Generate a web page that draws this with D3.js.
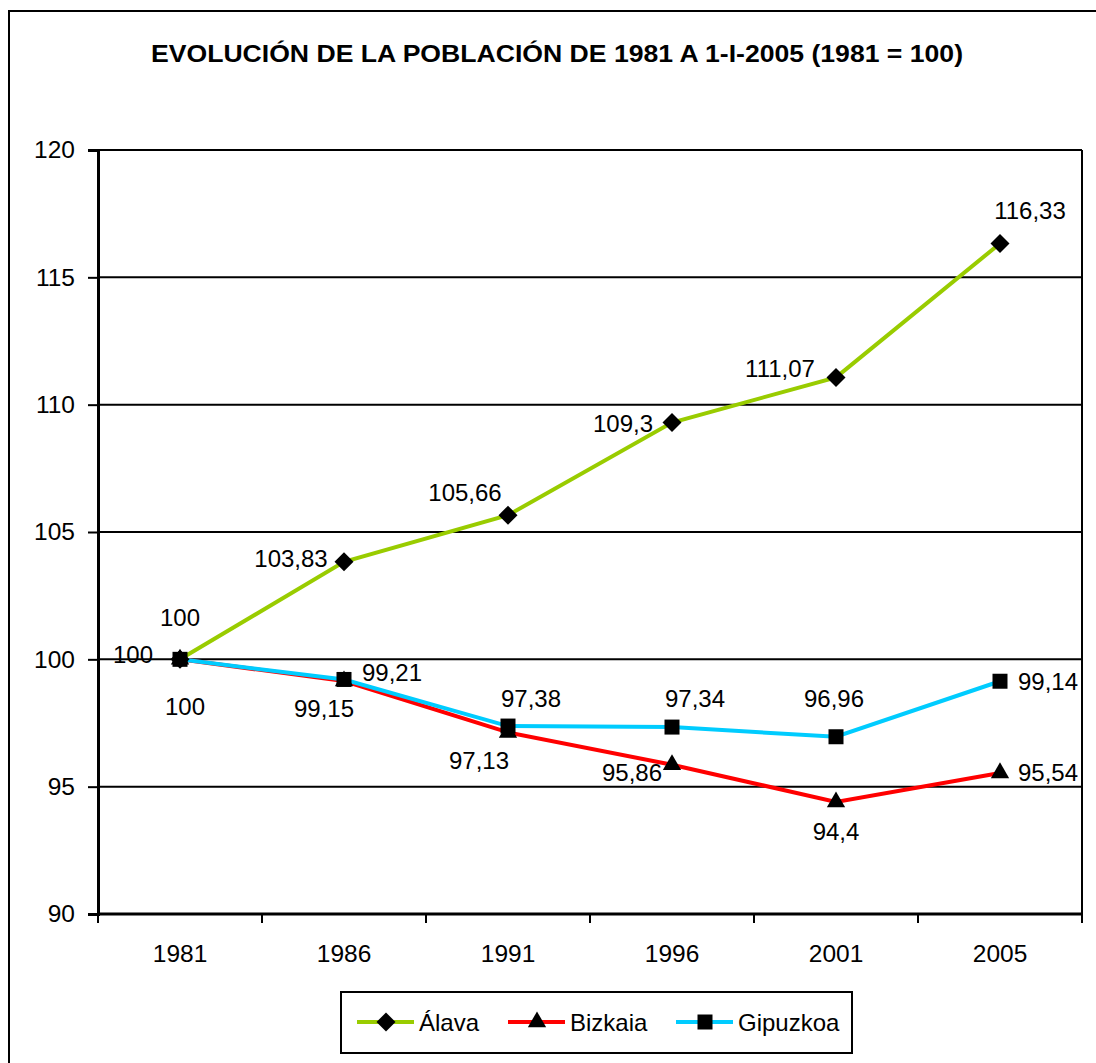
<!DOCTYPE html>
<html><head><meta charset="utf-8">
<script src="https://cdn.jsdelivr.net/npm/d3@7"></script>
<style>body{margin:0;background:#fff}svg{display:block}text{font-family:Arial,"Liberation Sans",sans-serif}</style>
</head><body>
<script>
const title = "EVOLUCIÓN DE LA POBLACIÓN DE 1981 A 1-I-2005 (1981 = 100)";
const years = ["1981","1986","1991","1996","2001","2005"];
const alava = [100,103.83,105.66,109.3,111.07,116.33];
const bizkaia = [100,99.15,97.13,95.86,94.4,95.54];
const gipuzkoa = [100,99.21,97.38,97.34,96.96,99.14];
const yTicks = [90,95,100,105,110,115,120];
const seriesNames = ["Álava","Bizkaia","Gipuzkoa"];
const seriesColors = ["#99CC00","#FF0000","#00CCFF"];
const seriesSymbols = [d3.symbolDiamond2, d3.symbolTriangle, d3.symbolSquare];
// label offsets (dx, dy) relative to each point, per series
const labelOffsets = [
  [[0,-42],[-53,-3],[-43,-23],[-49,1],[-56,-9],[30,-33]],
  [[-47,-5],[-20,28],[-29,28],[-40,8],[0,30],[48,0]],
  [[5,47],[48,-7],[23,-28],[23,-29],[-2,-38],[48,0]]
];
const series = [alava,bizkaia,gipuzkoa];

const W=1096,H=1063;
const svg=d3.select("body").append("svg").attr("width",W).attr("height",H);
svg.append("rect").attr("width",W).attr("height",H).attr("fill","#fff");
svg.append("rect").attr("x",9).attr("y",11).attr("width",1200).attr("height",1200)
  .attr("fill","none").attr("stroke","#000").attr("stroke-width",2);

svg.append("text").attr("x",151).attr("y",62)
  .attr("font-size",23).attr("font-weight","bold")
  .attr("textLength",812).attr("lengthAdjust","spacingAndGlyphs").text(title);

const L=98,R=1082,T=150,B=914;
const x=d3.scaleBand().domain(years).range([L,R]);
const y=d3.scaleLinear().domain([90,120]).range([B,T]);

svg.append("g").selectAll("line").data(yTicks.slice(1)).join("line")
  .attr("x1",L).attr("x2",R).attr("y1",d=>y(d)).attr("y2",d=>y(d))
  .attr("stroke","#000").attr("stroke-width",2);
svg.append("line").attr("x1",R).attr("x2",R).attr("y1",T).attr("y2",B)
  .attr("stroke","#000").attr("stroke-width",2);

const ya=svg.append("g").attr("transform",`translate(${L},0)`)
  .call(d3.axisLeft(y).tickValues(yTicks).tickSize(10).tickPadding(13).tickFormat(d3.format("d")));
ya.select(".domain").attr("stroke-width",3);
ya.selectAll(".tick line").attr("stroke-width",2);
ya.selectAll("text").attr("font-size",24.5).attr("font-family","Arial, 'Liberation Sans', sans-serif");

const xa=svg.append("g").attr("transform",`translate(0,${B})`)
  .call(d3.axisBottom(x).tickSize(0).tickPadding(31));
xa.select(".domain").attr("stroke-width",3).attr("d",`M${L},0H${R}`);
xa.selectAll("text").attr("font-size",24.5).attr("font-family","Arial, 'Liberation Sans', sans-serif");
const bounds=years.map(d=>x(d)).concat([R]);
xa.append("g").selectAll("line").data(bounds).join("line")
  .attr("x1",d=>d).attr("x2",d=>d).attr("y1",0).attr("y2",9)
  .attr("stroke","#000").attr("stroke-width",2);

const cx=d=>x(d)+x.bandwidth()/2;
const line=d3.line().x((d,i)=>cx(years[i])).y(d=>y(d));
const symSizes=[230,145,225];

[1,2,0].forEach(s=>{
  svg.append("path").datum(series[s]).attr("d",line).attr("fill","none")
    .attr("stroke",seriesColors[s]).attr("stroke-width",4);
});
[1,2,0].forEach(s=>{
  svg.append("g").selectAll("path").data(series[s]).join("path")
    .attr("transform",(d,i)=>`translate(${cx(years[i])},${y(d)})`)
    .attr("d",d3.symbol(seriesSymbols[s],symSizes[s])).attr("fill","#000");
});
const fmt=v=>String(v).replace(".",",");
series.forEach((sd,s)=>{
  svg.append("g").selectAll("text").data(sd).join("text")
    .attr("x",(d,i)=>cx(years[i])+labelOffsets[s][i][0])
    .attr("y",(d,i)=>y(d)+labelOffsets[s][i][1])
    .attr("text-anchor","middle").attr("dominant-baseline","central")
    .attr("font-size",24).text(d=>fmt(d));
});

const lg=svg.append("g");
lg.append("rect").attr("x",341).attr("y",992).attr("width",511).attr("height",61)
  .attr("fill","#fff").attr("stroke","#000").attr("stroke-width",2);
const legX=[357,508,676];
seriesNames.forEach((n,s)=>{
  const g=lg.append("g").attr("transform",`translate(${legX[s]},1022)`);
  g.append("line").attr("x1",0).attr("x2",57).attr("stroke",seriesColors[s]).attr("stroke-width",4);
  g.append("path").attr("transform","translate(29,0)").attr("d",d3.symbol(seriesSymbols[s],symSizes[s])).attr("fill","#000");
  g.append("text").attr("x",62).attr("y",0).attr("dominant-baseline","central").attr("font-size",24).text(n);
});
</script>
</body></html>
